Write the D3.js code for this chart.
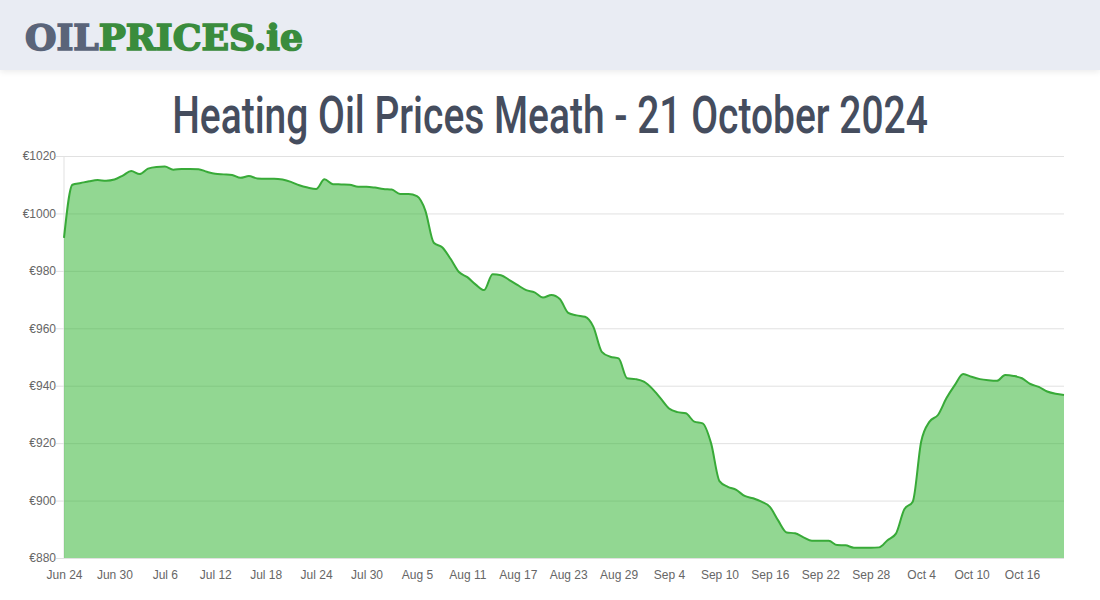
<!DOCTYPE html>
<html>
<head>
<meta charset="utf-8">
<script src="https://cdn.jsdelivr.net/npm/d3@7"></script>
<style>
    body { margin: 0; background: #fff; }
    .header { height: 70px; background: #e9ecf3; box-shadow: 0 2px 6px rgba(0,0,0,0.08); position: absolute; top: 0; left: 0; width: 1100px; }
    svg { position: absolute; top: 0; left: 0; }
</style>
</head>
<body>
<div class="header"></div>
<svg width="1100" height="600"></svg>
<script>
// daily prices from Jun 24 to Oct 21 2024
var prices = [
    991.5, 1010, 1010.6, 1011.2, 1011.6, 1011.4, 1011.8, 1013.2, 1014.8, 1013.7,
    1015.6, 1016.2, 1016.3, 1015.2, 1015.5, 1015.5, 1015.4, 1014.5, 1013.8, 1013.6,
    1013.4, 1012.4, 1013, 1012.2, 1012.1, 1012.1, 1011.8, 1011, 1009.8, 1009,
    1008.5, 1011.9, 1010.2, 1010.1, 1010, 1009.3, 1009.3, 1009, 1008.5, 1008.3,
    1006.8, 1006.8, 1006, 1001, 989.8, 988.2, 984.2, 979.6, 977.8, 975.2,
    973.3, 978.8, 978.5, 976.8, 975, 973.3, 972.5, 970.7, 971.6, 970.2,
    965.4, 964.5, 964, 960.5, 951.8, 950.1, 949.5, 942.6, 942.3, 941.4,
    939, 935.6, 932.1, 930.8, 930.4, 927.5, 926.9, 920, 906.8, 904.8,
    903.7, 901.6, 900.8, 899.6, 897.8, 893, 888.9, 888.6, 887.2, 886,
    886, 886, 884.5, 884.4, 883.6, 883.6, 883.6, 883.7, 886.2, 888.5,
    897, 899.6, 920.5, 927.5, 929.8, 935.6, 940.2, 944.1, 943.1, 942.3,
    941.9, 941.7, 943.7, 943.4, 942.6, 940.6, 939.6, 938, 937.2, 936.8
];

var tickLabels = ["Jun 24", "Jun 30", "Jul 6", "Jul 12", "Jul 18", "Jul 24", "Jul 30",
    "Aug 5", "Aug 11", "Aug 17", "Aug 23", "Aug 29", "Sep 4", "Sep 10", "Sep 16",
    "Sep 22", "Sep 28", "Oct 4", "Oct 10", "Oct 16"];
var tickEvery = 6;

var yTicks = [880, 900, 920, 940, 960, 980, 1000, 1020];

var svg = d3.select("svg"),
    margin = {top: 156, right: 36, bottom: 42, left: 64},
    width = svg.attr("width") - margin.left - margin.right,
    height = svg.attr("height") - margin.top - margin.bottom;

// logo
var logo = svg.append("text")
    .attr("x", 25)
    .attr("y", 50)
    .attr("textLength", 278)
    .attr("lengthAdjust", "spacingAndGlyphs")
    .attr("stroke-width", 1.6)
    .style("font", "bold 35px 'DejaVu Serif', serif");
logo.append("tspan").attr("fill", "#5a6479").attr("stroke", "#5a6479").text("OIL");
logo.append("tspan").attr("fill", "#3a8c3c").attr("stroke", "#3a8c3c").text("PRICES.ie");

// title (condensed look: squeeze horizontally)
var title = svg.append("g").attr("transform", "translate(550,133)");
var titleText = title.append("text")
    .attr("text-anchor", "middle")
    .attr("fill", "#454d5e")
    .style("font", "500 52px Roboto, sans-serif")
    .text("Heating Oil Prices Meath - 21 October 2024");
var tw = titleText.node().getComputedTextLength();
titleText.attr("transform", "scale(" + (756 / tw) + ",1)");

var g = svg.append("g").attr("transform", "translate(" + margin.left + "," + margin.top + ")");

var scaleX = d3.scaleLinear().domain([0, prices.length - 1]).range([0, width]),
    scaleY = d3.scaleLinear().domain([880, 1020]).range([height, 0]);

// grid + y axis
var axisY = g.append("g").attr("class", "axis axis--y")
    .call(d3.axisLeft(scaleY).tickValues(yTicks).tickSize(-width - 8).tickPadding(2)
        .tickFormat(function (d) { return "€" + d; }));
axisY.select(".domain").remove();
axisY.selectAll(".tick line").attr("x1", -8).attr("x2", width).attr("stroke", "#e1e1e1");
axisY.selectAll(".tick text")
    .attr("x", -8)
    .attr("fill", "#666")
    .style("font", "12px 'Liberation Sans', Arial, sans-serif");

// vertical line at left of plot
g.append("line")
    .attr("x1", 0).attr("x2", 0)
    .attr("y1", 0).attr("y2", height)
    .attr("stroke", "#e1e1e1");

var area = d3.area()
    .curve(d3.curveMonotoneX)
    .x(function (d, i) { return scaleX(i); })
    .y0(height)
    .y1(function (d) { return scaleY(d); });

var line = d3.line()
    .curve(d3.curveMonotoneX)
    .x(function (d, i) { return scaleX(i); })
    .y(function (d) { return scaleY(d); });

g.append("path")
    .datum(prices)
    .attr("d", area)
    .attr("fill", "rgba(50,180,50,0.53)");

g.append("path")
    .datum(prices)
    .attr("d", line)
    .attr("fill", "none")
    .attr("stroke", "#38aa38")
    .attr("stroke-width", 2);

// x axis labels
var axisX = g.append("g").attr("class", "axis axis--x")
    .attr("transform", "translate(0," + height + ")")
    .call(d3.axisBottom(scaleX)
        .tickValues(tickLabels.map(function (d, i) { return i * tickEvery; }))
        .tickSize(0).tickPadding(12)
        .tickFormat(function (d, i) { return tickLabels[i]; }));
axisX.select(".domain").remove();
axisX.selectAll(".tick text")
    .attr("fill", "#666")
    .style("font", "12px 'Liberation Sans', Arial, sans-serif");
</script>
</body>
</html>
